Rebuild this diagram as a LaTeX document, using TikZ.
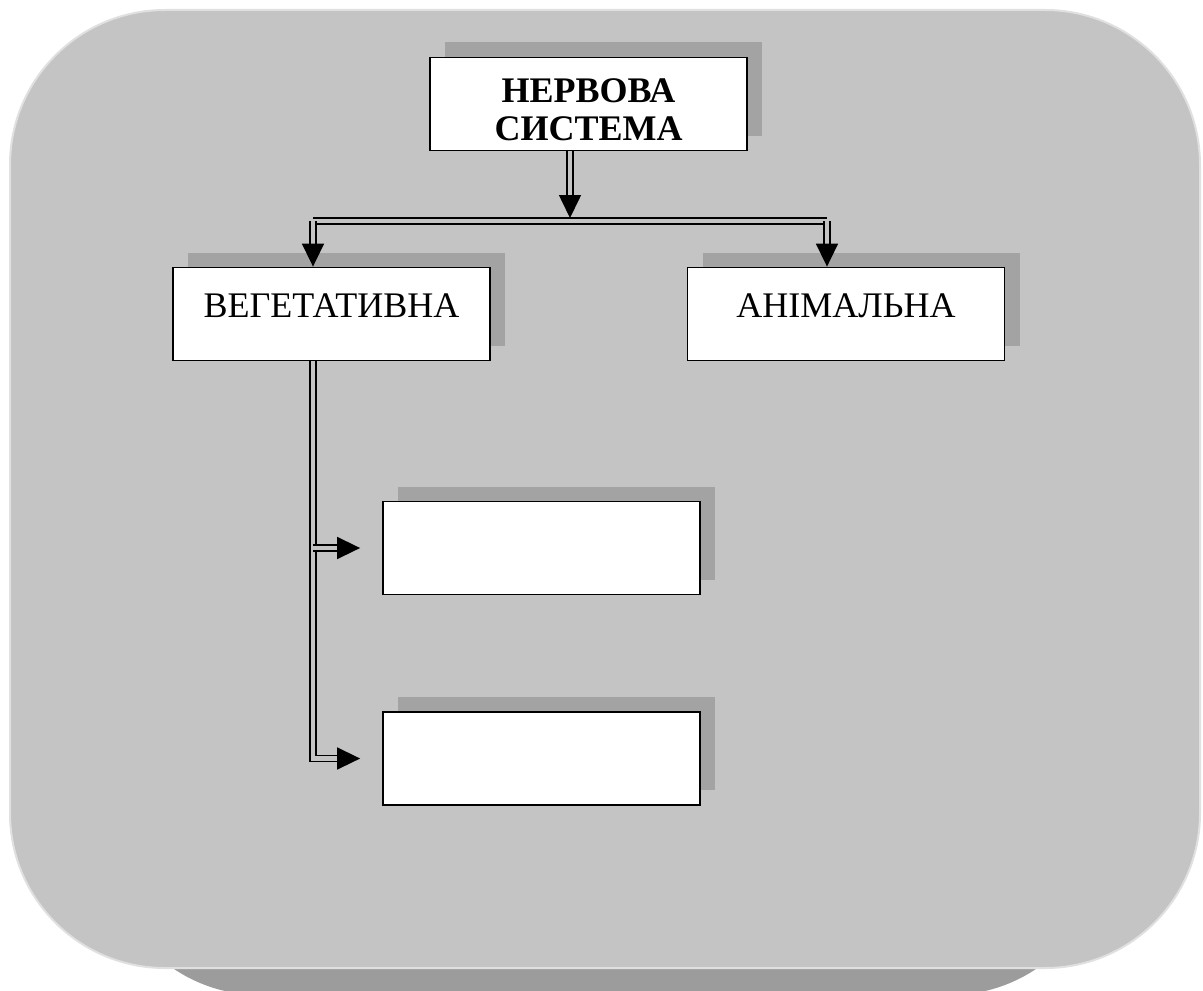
\documentclass[tikz,border=0pt]{standalone}
\usepackage{fontspec}
\setmainfont{Liberation Serif}
\usetikzlibrary{arrows.meta,shadows}
\definecolor{bggray}{HTML}{C4C4C4}
\definecolor{boxshade}{HTML}{A3A3A3}
\definecolor{dropgray}{HTML}{9C9C9C}
\begin{document}
\begin{tikzpicture}[x=0.5pt, y=-0.5pt,
    box/.style={draw, fill=white, line width=0.9pt, minimum width=158.5pt, minimum height=46.5pt, inner sep=0pt,
      font=\fontsize{18}{19}\selectfont,
      general shadow={fill=boxshade, shadow xshift=7.5pt, shadow yshift=7.5pt}},
    dbl/.style={double=bggray, double distance=2.2pt, line width=0.8pt},
    tip/.style={-{Triangle[width=11pt,length=11.5pt]}}]
    \useasboundingbox (0,0) rectangle (1203,990);
    \fill[dropgray, rounded corners=77.5pt] (105,40) rectangle (1105,995);
    \draw[black!12, fill=bggray, line width=1pt, rounded corners=77.5pt] (10,10) rectangle (1200,968);
    \node[box, font=\fontsize{18}{19}\selectfont\bfseries, align=center, text height=37pt] (sys) at (588.5,104) {НЕРВОВА\\СИСТЕМА};
    \node[box, text height=12pt, text depth=9pt] (veg) at (331.5,314) {ВЕГЕТАТИВНА};
    \node[box, text height=12pt, text depth=9pt] (anim) at (846,314) {АНІМАЛЬНА};
    \node[box] (empA) at (541.5,548) {};
    \node[box] (empB) at (541.5,758.5) {};
    \coordinate (bus) at (570,221);
    \coordinate (busL) at (313,221);
    \coordinate (busR) at (827,221);
    \coordinate (trunk) at (313,360);
    \draw[dbl, tip, shorten >=1.5pt] (sys.south -| bus) -- (bus);
    \draw[dbl] (busL) -- (busR);
    \draw[dbl, tip] (busL) -- (veg.north -| busL);
    \draw[dbl, tip] (busR) -- (anim.north -| busR);
    \draw[dbl, tip, shorten >=11pt] (veg.south -| trunk) |- (empB.west);
    \draw[dbl, tip, shorten >=11pt] (empA.west -| trunk) -- (empA.west);
  \end{tikzpicture}
\end{document}
